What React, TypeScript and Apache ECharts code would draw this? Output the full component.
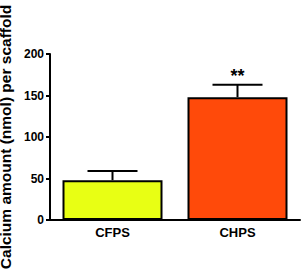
import React, { useEffect, useRef } from "react";
import * as echarts from "echarts";

const categories = ["CFPS", "CHPS"];
const means = [48, 148];
const errors = [11, 15];
const significance = ["", "**"];
const barColors = ["#E8FF14", "#FF4A0A"];
const yTicks = { min: 0, max: 200, interval: 50 };
const yName = "Calcium amount (nmol) per scaffold";

export default function App() {
  const ref = useRef<HTMLDivElement>(null);
  useEffect(() => {
    if (!ref.current) return;
    const chart = echarts.init(ref.current, undefined, { renderer: "svg" });
    const font = "Arial, 'Liberation Sans', Helvetica, sans-serif";
    chart.setOption({
      animation: false,
      grid: { left: 50, right: 4, top: 54, bottom: 55, outerBoundsMode: "none", containLabel: false },
      xAxis: {
        type: "category",
        data: categories,
        boundaryGap: true,
        axisLine: { lineStyle: { color: "#000", width: 2 } },
        axisTick: { alignWithLabel: true, length: 4, lineStyle: { color: "#000", width: 2 } },
        axisLabel: { color: "#000", fontFamily: font, fontWeight: "bold", fontSize: 13, margin: 6 },
      },
      yAxis: {
        type: "value",
        min: yTicks.min,
        max: yTicks.max,
        interval: yTicks.interval,
        name: yName,
        nameLocation: "middle",
        nameGap: 32,
        nameTextStyle: { color: "#000", fontFamily: font, fontWeight: "bold", fontSize: 15.5 },
        splitLine: { show: false },
        axisLine: { show: true, lineStyle: { color: "#000", width: 2 } },
        axisTick: { show: true, length: 4, lineStyle: { color: "#000", width: 2 } },
        axisLabel: { color: "#000", fontFamily: font, fontWeight: "bold", fontSize: 12, margin: 6 },
      },
      series: [
        {
          type: "bar",
          barWidth: "80%",
          data: means.map((v, i) => ({
            value: v,
            itemStyle: { color: barColors[i], borderColor: "#000", borderWidth: 2 },
          })),
          z: 2,
        },
        {
          type: "custom",
          z: 1,
          data: means.map((v, i) => [i, v, errors[i]]),
          renderItem: (params: any, api: any) => {
            const idx = api.value(0);
            const m = api.value(1);
            const e = api.value(2);
            const base = api.coord([idx, m]);
            const top = api.coord([idx, m + e]);
            const half = api.size([1, 0])[0] * 0.2;
            const children: any[] = [
              { type: "line", shape: { x1: base[0], y1: base[1], x2: top[0], y2: top[1] }, style: { stroke: "#000", lineWidth: 2 } },
              { type: "line", shape: { x1: top[0] - half, y1: top[1], x2: top[0] + half, y2: top[1] }, style: { stroke: "#000", lineWidth: 2 } },
            ];
            const sig = significance[params.dataIndex];
            if (sig) {
              children.push({
                type: "text",
                x: top[0],
                y: top[1] - 9,
                style: { text: sig, fill: "#000", font: `bold 18px ${font}`, align: "center", verticalAlign: "middle" },
              });
            }
            return { type: "group", children };
          },
        },
      ],
    });
    return () => chart.dispose();
  }, []);
  return <div ref={ref} style={{ width: 304, height: 275, position: "absolute", left: 0, top: 0 }} />;
}
